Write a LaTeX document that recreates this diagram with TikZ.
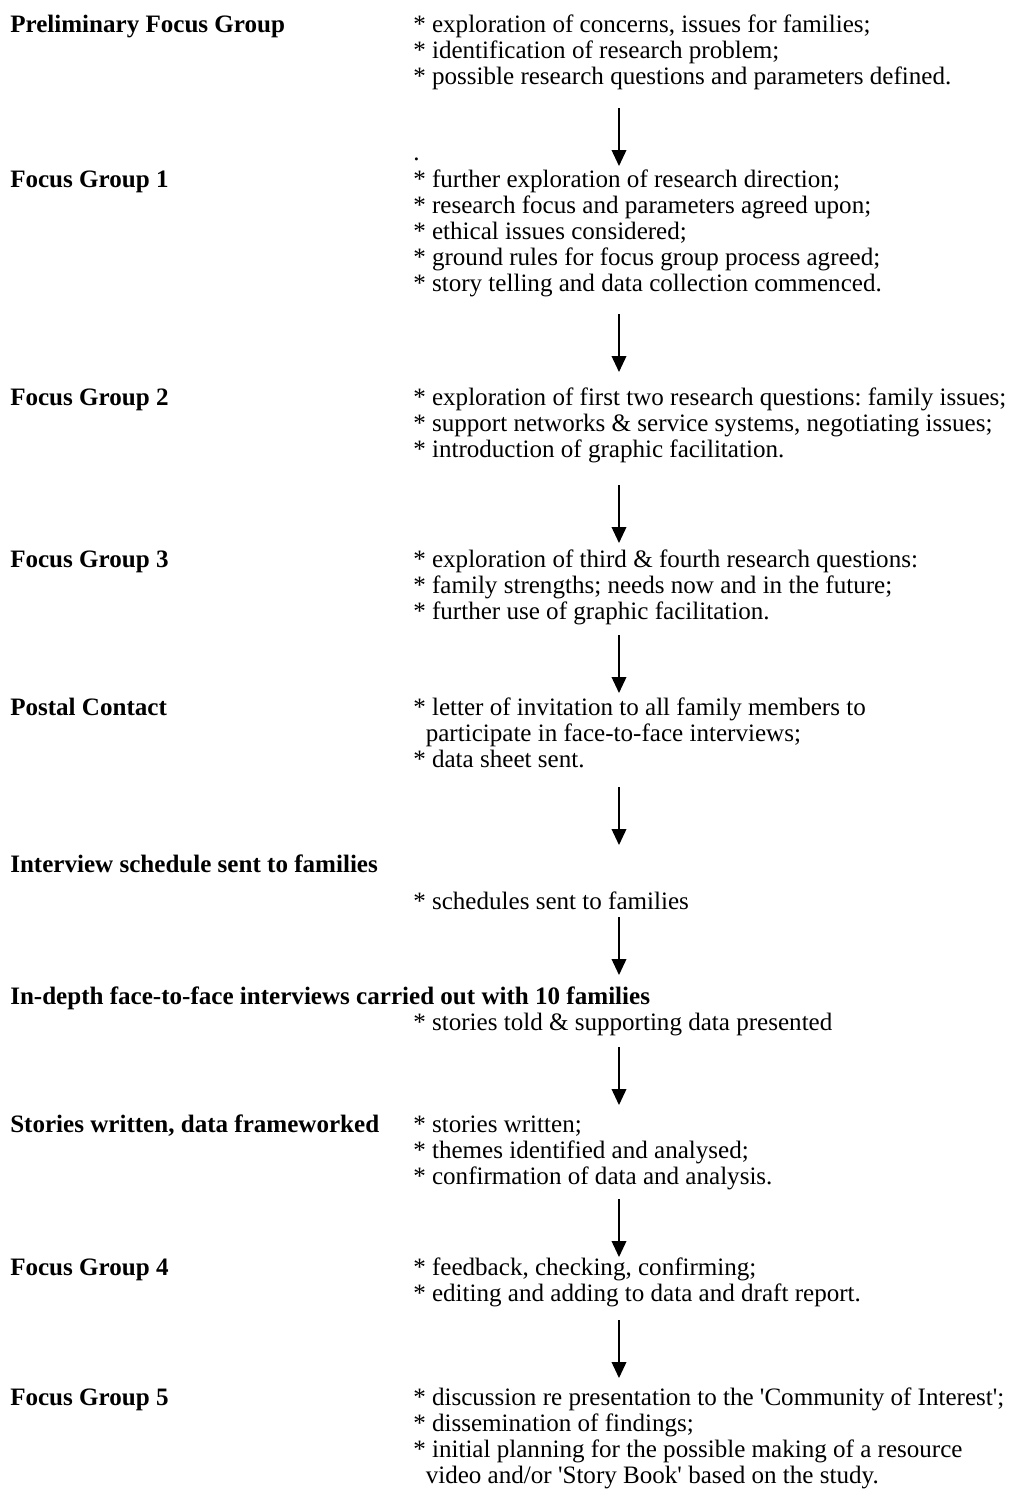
\documentclass[tikz,border=0pt]{standalone}
\usepackage{fontspec}
\setmainfont{Liberation Serif}
\usepackage{tikz}
\usetikzlibrary{arrows.meta}
\newcommand{\flowfont}{\fontsize{18.8pt}{19.5pt}\selectfont\frenchspacing}
\newcommand{\points}[1]{\begin{tabular}[t]{@{}l@{}}#1\end{tabular}}
\tikzset{
  every picture/.style={x=0.75pt, y=-0.75pt},
  stage/.style={anchor=base west, inner sep=0pt, font=\flowfont\bfseries},
  detail/.style={anchor=base west, inner sep=0pt, font=\flowfont},
  flow/.style={-{Triangle[length=12pt, width=11pt]}, line width=1.2pt},
}
\begin{document}
\begin{tikzpicture}
  \useasboundingbox (0,0) rectangle (1018,1510);
  % stages on the left, what happened on the right
  \node[stage] (pre) at (10,32) {Preliminary Focus Group};
  \node[detail] (pretxt) at (413,32) {\points{{*} exploration of concerns, issues for families;\\{*} identification of research problem;\\{*} possible research questions and parameters defined.}};
  \node[detail] (dot) at (413,160) {.};
  \node[stage] (fg1) at (10,187) {Focus Group 1};
  \node[detail] (fg1txt) at (413,187) {\points{{*} further exploration of research direction;\\{*} research focus and parameters agreed upon;\\{*} ethical issues considered;\\{*} ground rules for focus group process agreed;\\{*} story telling and data collection commenced.}};
  \node[stage] (fg2) at (10,405) {Focus Group 2};
  \node[detail] (fg2txt) at (413,405) {\points{{*} exploration of first two research questions: family issues;\\{*} support networks \& service systems, negotiating issues;\\{*} introduction of graphic facilitation.}};
  \node[stage] (fg3) at (10,567) {Focus Group 3};
  \node[detail] (fg3txt) at (413,567) {\points{{*} exploration of third \& fourth research questions:\\{*} family strengths; needs now and in the future;\\{*} further use of graphic facilitation.}};
  \node[stage] (post) at (10,715) {Postal Contact};
  \node[detail] (posttxt) at (413,715) {\points{{*} letter of invitation to all family members to\\\hspace*{0.5em}participate in face-to-face interviews;\\{*} data sheet sent.}};
  \node[stage] (sched) at (10,872) {Interview schedule sent to families};
  \node[detail] (schedtxt) at (413,909) {* schedules sent to families};
  \node[stage] (intv) at (10,1004) {In-depth face-to-face interviews carried out with 10 families};
  \node[detail] (intvtxt) at (413,1030) {* stories told \& supporting data presented};
  \node[stage] (story) at (10,1132) {Stories written, data frameworked};
  \node[detail] (storytxt) at (413,1132) {\points{{*} stories written;\\{*} themes identified and analysed;\\{*} confirmation of data and analysis.}};
  \node[stage] (fg4) at (10,1275) {Focus Group 4};
  \node[detail] (fg4txt) at (413,1275) {\points{{*} feedback, checking, confirming;\\{*} editing and adding to data and draft report.}};
  \node[stage] (fg5) at (10,1405) {Focus Group 5};
  \node[detail] (fg5txt) at (413,1405) {\points{{*} discussion re presentation to the \textquotesingle Community of Interest\textquotesingle;\\{*} dissemination of findings;\\{*} initial planning for the possible making of a resource\\\hspace*{0.5em}video and/or \textquotesingle Story Book\textquotesingle{} based on the study.}};
  % arrow ends
  \coordinate (a1) at (619,108);  \coordinate (b1) at (619,166);
  \coordinate (a2) at (619,314);  \coordinate (b2) at (619,372);
  \coordinate (a3) at (619,485);  \coordinate (b3) at (619,543);
  \coordinate (a4) at (619,635);  \coordinate (b4) at (619,693);
  \coordinate (a5) at (619,787);  \coordinate (b5) at (619,845);
  \coordinate (a6) at (619,917);  \coordinate (b6) at (619,975);
  \coordinate (a7) at (619,1047); \coordinate (b7) at (619,1105);
  \coordinate (a8) at (619,1199); \coordinate (b8) at (619,1257);
  \coordinate (a9) at (619,1320); \coordinate (b9) at (619,1378);
  \foreach \i in {1,...,9}
    \draw[flow] (a\i) -- (b\i);
\end{tikzpicture}
\end{document}
